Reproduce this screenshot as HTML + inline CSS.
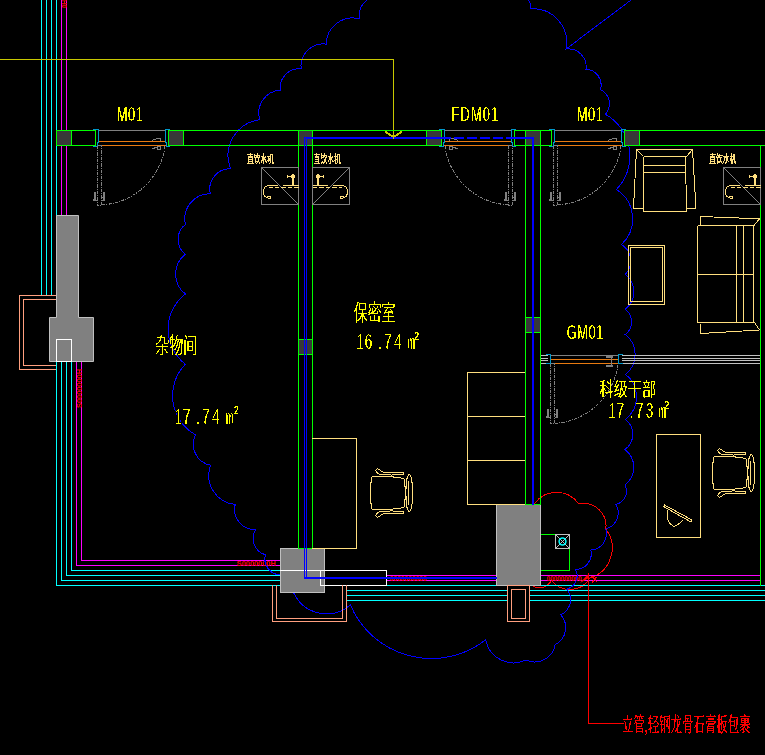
<!DOCTYPE html>
<html lang="zh"><head><meta charset="utf-8"><title>plan</title>
<style>html,body{margin:0;padding:0;background:#000;overflow:hidden}svg{display:block}text{white-space:pre}</style></head>
<body><svg width="765" height="755" viewBox="0 0 765 755">
<defs><filter id="bin" x="0" y="0" width="765" height="755" filterUnits="userSpaceOnUse" color-interpolation-filters="sRGB"><feComponentTransfer><feFuncR type="discrete" tableValues="0 0 0 0 1 1 1 1 1 1"/><feFuncG type="discrete" tableValues="0 0 0 0 1 1 1 1 1 1"/><feFuncB type="discrete" tableValues="0 0 0 0 1 1 1 1 1 1"/><feFuncA type="discrete" tableValues="0 0 0 1 1 1 1 1 1 1"/></feComponentTransfer></filter><filter id="binA" x="0" y="0" width="765" height="755" filterUnits="userSpaceOnUse" color-interpolation-filters="sRGB"><feComponentTransfer><feFuncA type="discrete" tableValues="0 0 0 0 1 1 1 1 1 1"/></feComponentTransfer></filter></defs>
<rect width="765" height="755" fill="#000"/>
<path d="M534.3,504A27.1,27.1 0 0 1 578.8,504A22.4,22.4 0 0 1 605.8,529A31.4,31.4 0 0 1 590,578" fill="none" stroke="#ff0000" stroke-width="1" shape-rendering="crispEdges" />
<path d="M530,583.5A13.0,13.0 0 0 0 551.4,580.2A23.2,23.2 0 0 0 590,578" fill="none" stroke="#ff0000" stroke-width="1" shape-rendering="crispEdges" />
<g shape-rendering="crispEdges">
<rect x="41" y="0" width="1" height="296" fill="#00ffff"/>
<rect x="46" y="0" width="1" height="296" fill="#00ffff"/>
<rect x="51" y="0" width="1" height="296" fill="#00ffff"/>
<rect x="56" y="0" width="1" height="216" fill="#00ffff"/>
<rect x="56" y="361" width="1" height="225" fill="#00ffff"/>
<rect x="56" y="585" width="225" height="1" fill="#00ffff"/>
<rect x="61" y="361" width="1" height="220" fill="#00ffff"/>
<rect x="61" y="580" width="220" height="1" fill="#00ffff"/>
<rect x="66" y="361" width="1" height="215" fill="#00ffff"/>
<rect x="66" y="575" width="215" height="1" fill="#00ffff"/>
<rect x="71" y="361" width="1" height="210" fill="#00ffff"/>
<rect x="71" y="570" width="210" height="1" fill="#00ffff"/>
<rect x="386" y="585" width="380" height="1" fill="#00ffff"/>
<rect x="347" y="590" width="161" height="1" fill="#00ffff"/>
<rect x="529" y="590" width="237" height="1" fill="#00ffff"/>
<rect x="347" y="595" width="161" height="1" fill="#00ffff"/>
<rect x="529" y="595" width="237" height="1" fill="#00ffff"/>
<rect x="347" y="600" width="161" height="1" fill="#00ffff"/>
<rect x="529" y="600" width="237" height="1" fill="#00ffff"/>
<rect x="61" y="0" width="1" height="216" fill="#ff00ff"/>
<rect x="66" y="0" width="1" height="216" fill="#ff00ff"/>
<rect x="76" y="361" width="1" height="205" fill="#ff00ff"/>
<rect x="76" y="565" width="205" height="1" fill="#ff00ff"/>
<rect x="81" y="361" width="1" height="200" fill="#ff00ff"/>
<rect x="81" y="560" width="200" height="1" fill="#ff00ff"/>
<rect x="387" y="575" width="110" height="1" fill="#ff00ff"/>
<rect x="540" y="575" width="221" height="1" fill="#ff00ff"/>
<rect x="387" y="580" width="110" height="1" fill="#ff00ff"/>
<rect x="540" y="580" width="221" height="1" fill="#ff00ff"/>
</g>
<g opacity="0.999">
<text transform="translate(237,565.5) scale(1,1)" font-family='"Liberation Sans",sans-serif' font-size="7" font-weight="700" fill="#ff0000" stroke="#ff0000" stroke-width="0.15" textLength="39" lengthAdjust="spacingAndGlyphs">S0000000H</text>
<text transform="translate(390,581) scale(1,1)" font-family='"Liberation Sans",sans-serif' font-size="7" font-weight="700" fill="#ff0000" stroke="#ff0000" stroke-width="0.15" textLength="37" lengthAdjust="spacingAndGlyphs">0000000000</text>
<text transform="translate(547,581) scale(1,1)" font-family='"Liberation Sans",sans-serif' font-size="7" font-weight="700" fill="#ff0000" stroke="#ff0000" stroke-width="0.15" textLength="35" lengthAdjust="spacingAndGlyphs">0000000000</text>
<text transform="translate(81.6,408) rotate(-90)" font-family='"Liberation Sans",sans-serif' font-size="7" font-weight="700" fill="#ff0000" stroke="#ff0000" stroke-width="0.15" textLength="39" lengthAdjust="spacingAndGlyphs">S0000000H</text>
<text transform="translate(66.6,8) rotate(-90)" font-family='"Liberation Sans",sans-serif' font-size="7" font-weight="700" fill="#ff0000" stroke="#ff0000" stroke-width="0.15" textLength="8" lengthAdjust="spacingAndGlyphs">0H</text>
</g>
<path d="M378,-3A18.0,18.0 0 0 0 359.7,18.9A26.4,26.4 0 0 0 326.3,44.1A22.2,22.2 0 0 0 301.2,68.9A18.7,18.7 0 0 0 280.5,90.2A22.7,22.7 0 0 0 259.9,119.8A35.9,35.9 0 0 0 230.6,168.7A20.3,20.3 0 0 0 210.4,193.8A24.9,24.9 0 0 0 185.5,224.4A18.8,18.8 0 0 0 185.4,254.3A25.0,25.0 0 0 0 185.4,294A44.2,44.2 0 0 0 185.4,364.2A44.9,44.9 0 0 0 195.5,434.8A21.4,21.4 0 0 0 210.6,465.3A29.2,29.2 0 0 0 235.2,504.5A20.4,20.4 0 0 0 255.6,529.7A17.0,17.0 0 0 0 265.4,554.8A16.1,16.1 0 0 0 281,575M293.8,593.1A36.4,36.4 0 0 0 350.4,605A88.0,88.0 0 0 0 485.7,639.8A28.3,28.3 0 0 0 525.9,660A20.8,20.8 0 0 0 555.2,644.7A19.2,19.2 0 0 0 560.8,614.8A16.7,16.7 0 0 0 566.7,589A13.5,13.5 0 0 0 575.5,569.4A15.6,15.6 0 0 0 590.8,550A16.3,16.3 0 0 0 605.8,529A16.8,16.8 0 0 0 615.9,504.4A13.5,13.5 0 0 0 625,485A22.4,22.4 0 0 0 625,449.5A19.0,19.0 0 0 0 625.5,419.3A28.4,28.4 0 0 0 625.5,374.3A25.1,25.1 0 0 0 625.3,334.5A15.9,15.9 0 0 0 625.3,309.2A22.0,22.0 0 0 0 625.3,274.3A18.9,18.9 0 0 0 621.4,244.6A34.9,34.9 0 0 0 616.4,189.5A47.9,47.9 0 0 0 605.4,114.3A15.9,15.9 0 0 0 600.5,89.5A15.6,15.6 0 0 0 586,69.4A18.0,18.0 0 0 0 566.1,49A34.0,34.0 0 0 0 530.3,8.7A9.4,9.4 0 0 0 521,-3" fill="none" stroke="#0000ff" stroke-width="1" shape-rendering="crispEdges" />
<path d="M566.1,49L631,0" fill="none" stroke="#0000ff" stroke-width="1" shape-rendering="crispEdges" />
<g shape-rendering="crispEdges">
<rect x="0" y="59" width="394" height="1" fill="#c8c800"/>
<rect x="393" y="59" width="1" height="79" fill="#c8c800"/>
</g>
<path d="M385,131.5L393.5,137L402,131.5" fill="none" stroke="#c8c800" stroke-width="2" shape-rendering="crispEdges" />
<g shape-rendering="crispEdges">
<rect x="56" y="130" width="40" height="1" fill="#00ff00"/>
<rect x="56" y="145" width="40" height="1" fill="#00ff00"/>
<rect x="168" y="130" width="274" height="1" fill="#00ff00"/>
<rect x="168" y="145" width="274" height="1" fill="#00ff00"/>
<rect x="514" y="130" width="38" height="1" fill="#00ff00"/>
<rect x="514" y="145" width="38" height="1" fill="#00ff00"/>
<rect x="624" y="130" width="142" height="1" fill="#00ff00"/>
<rect x="624" y="145" width="142" height="1" fill="#00ff00"/>
<rect x="56" y="130" width="1" height="16" fill="#00ff00"/>
<rect x="71" y="130" width="1" height="16" fill="#00ff00"/>
<rect x="95" y="130" width="1" height="16" fill="#00ff00"/>
<rect x="168" y="130" width="1" height="16" fill="#00ff00"/>
<rect x="183" y="130" width="1" height="16" fill="#00ff00"/>
<rect x="298" y="130" width="1" height="16" fill="#00ff00"/>
<rect x="312" y="130" width="1" height="16" fill="#00ff00"/>
<rect x="426" y="130" width="1" height="16" fill="#00ff00"/>
<rect x="441" y="130" width="1" height="16" fill="#00ff00"/>
<rect x="514" y="130" width="1" height="16" fill="#00ff00"/>
<rect x="525" y="130" width="1" height="16" fill="#00ff00"/>
<rect x="540" y="130" width="1" height="16" fill="#00ff00"/>
<rect x="551" y="130" width="1" height="16" fill="#00ff00"/>
<rect x="624" y="130" width="1" height="16" fill="#00ff00"/>
<rect x="639" y="130" width="1" height="16" fill="#00ff00"/>
<rect x="57" y="131" width="14" height="14" fill="#383838"/>
<rect x="169" y="131" width="14" height="14" fill="#383838"/>
<rect x="299" y="131" width="13" height="14" fill="#383838"/>
<rect x="427" y="131" width="14" height="14" fill="#383838"/>
<rect x="526" y="131" width="14" height="14" fill="#383838"/>
<rect x="625" y="131" width="14" height="14" fill="#383838"/>
<rect x="298" y="145" width="1" height="404" fill="#00ff00"/>
<rect x="312" y="145" width="1" height="404" fill="#00ff00"/>
<rect x="298" y="339" width="15" height="1" fill="#00ff00"/>
<rect x="298" y="354" width="15" height="1" fill="#00ff00"/>
<rect x="299" y="340" width="13" height="14" fill="#383838"/>
<rect x="525" y="145" width="1" height="360" fill="#00ff00"/>
<rect x="540" y="145" width="1" height="360" fill="#00ff00"/>
<rect x="525" y="317" width="16" height="1" fill="#00ff00"/>
<rect x="525" y="332" width="16" height="1" fill="#00ff00"/>
<rect x="526" y="318" width="14" height="14" fill="#383838"/>
<rect x="760" y="145" width="1" height="441" fill="#00ff00"/>
</g>
<rect x="540.5" y="534.5" width="29" height="36" fill="none" stroke="#00ff00" stroke-width="1"/>
<path d="M56.5,215.5H78.5V317.5H93.5V361.5H49.5V317.5H56.5Z" fill="#808080" stroke="#c0c0c0" stroke-width="1"/>
<rect x="56.5" y="339.5" width="15" height="22" fill="none" stroke="#ffffff" stroke-width="1"/>
<rect x="280.5" y="548.5" width="44" height="44" fill="#808080" stroke="#c0c0c0" stroke-width="1"/>
<rect x="496.5" y="504.5" width="44" height="81" fill="#808080" stroke="#c0c0c0" stroke-width="1"/>
<g shape-rendering="crispEdges">
<rect x="298" y="548" width="15" height="1" fill="#00ff00"/>
<rect x="525" y="504" width="16" height="1" fill="#00ff00"/>
</g>
<g shape-rendering="crispEdges">
<rect x="280" y="570" width="107" height="1" fill="#ffffff"/>
</g>
<rect x="320.5" y="570.5" width="66" height="15" fill="none" stroke="#ffffff" stroke-width="1"/>
<path d="M56,295.5H19.5V369.5H56" fill="none" stroke="#ff9f7f" stroke-width="1" shape-rendering="crispEdges" />
<path d="M56,299.5H23.5V365.5H56" fill="none" stroke="#ff9f7f" stroke-width="1" shape-rendering="crispEdges" />
<path d="M272.5,585V621.5H346.5V585" fill="none" stroke="#ff9f7f" stroke-width="1" shape-rendering="crispEdges" />
<path d="M276.5,585V618.5H342.5V585" fill="none" stroke="#ff9f7f" stroke-width="1" shape-rendering="crispEdges" />
<rect x="507.5" y="585.5" width="22" height="36" fill="none" stroke="#ff9f7f" stroke-width="1"/>
<rect x="511.5" y="589.5" width="14" height="29" fill="none" stroke="#ff9f7f" stroke-width="1"/>
<g shape-rendering="crispEdges">
<rect x="99" y="130" width="67" height="1" fill="#808080"/>
<rect x="98" y="141" width="68" height="1" fill="#e87a10"/>
<rect x="102" y="145" width="65" height="1" fill="#e87a10"/>
<rect x="97" y="145" width="5" height="1" fill="#808080"/>
</g>
<path d="M93,129.5H98.5V142L97.5,142.5V146.5H93" fill="none" stroke="#0099cc" stroke-width="1" shape-rendering="crispEdges" />
<path d="M170,129.5H165.5V142L166.5,142.5V146.5H170" fill="none" stroke="#0099cc" stroke-width="1" shape-rendering="crispEdges" />
<path d="M97.5,146V205.5H101.5V146" fill="none" stroke="#808080" stroke-width="1" shape-rendering="crispEdges" stroke-dasharray="3.4 1 1 1"/>
<path d="M164.90,146.5A67.5,67.5 0 0 1 101.5,204.91" fill="none" stroke="#808080" stroke-width="1" shape-rendering="crispEdges" stroke-dasharray="3 1.2 1 1.2"/>
<g>
<path d="M152,140.4L155,139.5L158,138.3H160.6V141" fill="none" stroke="#808080" stroke-width="1" shape-rendering="crispEdges" />
<path d="M152,148.6L157,147.4 M157.2,146.3H160.7V149.5H157.2Z" fill="none" stroke="#808080" stroke-width="1" shape-rendering="crispEdges" />
</g>
<g shape-rendering="crispEdges">
<rect x="94" y="192" width="2" height="9" fill="#808080"/>
<rect x="93" y="200" width="4" height="1" fill="#808080"/>
<rect x="93" y="199" width="1" height="1" fill="#808080"/>
<rect x="103" y="192" width="2" height="9" fill="#808080"/>
<rect x="102" y="200" width="3" height="1" fill="#808080"/>
<rect x="102" y="197" width="2" height="1" fill="#808080"/>
</g>
<g shape-rendering="crispEdges">
<rect x="445" y="130" width="67" height="1" fill="#808080"/>
<rect x="444" y="141" width="68" height="1" fill="#e87a10"/>
<rect x="444" y="145" width="65" height="1" fill="#e87a10"/>
<rect x="508" y="145" width="5" height="1" fill="#808080"/>
</g>
<path d="M439,129.5H444.5V142L443.5,142.5V146.5H439" fill="none" stroke="#0099cc" stroke-width="1" shape-rendering="crispEdges" />
<path d="M516,129.5H511.5V142L512.5,142.5V146.5H516" fill="none" stroke="#0099cc" stroke-width="1" shape-rendering="crispEdges" />
<path d="M508.5,146V205.5H512.5V146" fill="none" stroke="#808080" stroke-width="1" shape-rendering="crispEdges" stroke-dasharray="3.4 1 1 1"/>
<path d="M445.10,146.5A67.5,67.5 0 0 0 508.5,204.91" fill="none" stroke="#808080" stroke-width="1" shape-rendering="crispEdges" stroke-dasharray="3 1.2 1 1.2"/>
<g transform="translate(907,0) scale(-1,1)">
<path d="M449,140.4L452,139.5L455,138.3H457.6V141" fill="none" stroke="#808080" stroke-width="1" shape-rendering="crispEdges" />
<path d="M449,148.6L454,147.4 M454.2,146.3H457.7V149.5H454.2Z" fill="none" stroke="#808080" stroke-width="1" shape-rendering="crispEdges" />
</g>
<g shape-rendering="crispEdges">
<rect x="505" y="192" width="2" height="9" fill="#808080"/>
<rect x="504" y="200" width="4" height="1" fill="#808080"/>
<rect x="504" y="199" width="1" height="1" fill="#808080"/>
<rect x="514" y="192" width="2" height="9" fill="#808080"/>
<rect x="513" y="200" width="3" height="1" fill="#808080"/>
<rect x="513" y="197" width="2" height="1" fill="#808080"/>
</g>
<g shape-rendering="crispEdges">
<rect x="555" y="130" width="67" height="1" fill="#808080"/>
<rect x="554" y="141" width="68" height="1" fill="#e87a10"/>
<rect x="558" y="145" width="65" height="1" fill="#e87a10"/>
<rect x="553" y="145" width="5" height="1" fill="#808080"/>
</g>
<path d="M549,129.5H554.5V142L553.5,142.5V146.5H549" fill="none" stroke="#0099cc" stroke-width="1" shape-rendering="crispEdges" />
<path d="M626,129.5H621.5V142L622.5,142.5V146.5H626" fill="none" stroke="#0099cc" stroke-width="1" shape-rendering="crispEdges" />
<path d="M553.5,146V205.5H557.5V146" fill="none" stroke="#808080" stroke-width="1" shape-rendering="crispEdges" stroke-dasharray="3.4 1 1 1"/>
<path d="M620.90,146.5A67.5,67.5 0 0 1 557.5,204.91" fill="none" stroke="#808080" stroke-width="1" shape-rendering="crispEdges" stroke-dasharray="3 1.2 1 1.2"/>
<g>
<path d="M608,140.4L611,139.5L614,138.3H616.6V141" fill="none" stroke="#808080" stroke-width="1" shape-rendering="crispEdges" />
<path d="M608,148.6L613,147.4 M613.2,146.3H616.7V149.5H613.2Z" fill="none" stroke="#808080" stroke-width="1" shape-rendering="crispEdges" />
</g>
<g shape-rendering="crispEdges">
<rect x="550" y="192" width="2" height="9" fill="#808080"/>
<rect x="549" y="200" width="4" height="1" fill="#808080"/>
<rect x="549" y="199" width="1" height="1" fill="#808080"/>
<rect x="559" y="192" width="2" height="9" fill="#808080"/>
<rect x="558" y="200" width="3" height="1" fill="#808080"/>
<rect x="558" y="197" width="2" height="1" fill="#808080"/>
</g>
<g shape-rendering="crispEdges">
<rect x="541" y="355" width="7" height="1" fill="#c0c0c0"/>
<rect x="622" y="355" width="138" height="1" fill="#c0c0c0"/>
<rect x="541" y="358" width="7" height="1" fill="#c0c0c0"/>
<rect x="622" y="358" width="138" height="1" fill="#c0c0c0"/>
<rect x="541" y="360" width="7" height="1" fill="#c0c0c0"/>
<rect x="622" y="360" width="138" height="1" fill="#c0c0c0"/>
<rect x="541" y="363" width="7" height="1" fill="#c0c0c0"/>
<rect x="622" y="363" width="138" height="1" fill="#c0c0c0"/>
<rect x="551" y="355" width="68" height="1" fill="#808080"/>
<rect x="551" y="359" width="68" height="1" fill="#e87a10"/>
<rect x="555" y="363" width="64" height="1" fill="#e87a10"/>
<rect x="550" y="363" width="5" height="1" fill="#808080"/>
</g>
<path d="M546,354.5H550.5V363.5H546" fill="none" stroke="#0099cc" stroke-width="1" shape-rendering="crispEdges" />
<path d="M623,354.5H618.5V363.5H623" fill="none" stroke="#0099cc" stroke-width="1" shape-rendering="crispEdges" />
<path d="M550.5,364V423.5H554.5V364" fill="none" stroke="#808080" stroke-width="1" shape-rendering="crispEdges" stroke-dasharray="3.4 1 1 1"/>
<path d="M617.9,365A68,68 0 0 1 554.5,423.4" fill="none" stroke="#808080" stroke-width="1" shape-rendering="crispEdges" stroke-dasharray="3 1.2 1 1.2"/>
<g shape-rendering="crispEdges">
<rect x="547" y="409" width="2" height="9" fill="#808080"/>
<rect x="546" y="417" width="4" height="1" fill="#808080"/>
<rect x="546" y="416" width="1" height="1" fill="#808080"/>
<rect x="556" y="409" width="2" height="9" fill="#808080"/>
<rect x="555" y="417" width="3" height="1" fill="#808080"/>
<rect x="555" y="414" width="2" height="1" fill="#808080"/>
</g>
<g shape-rendering="crispEdges">
<rect x="606" y="356" width="7" height="1" fill="#808080"/>
<rect x="606" y="357" width="7" height="1" fill="#808080"/>
<rect x="611" y="356" width="1" height="11" fill="#808080"/>
<rect x="606" y="365" width="7" height="1" fill="#808080"/>
<rect x="606" y="366" width="7" height="1" fill="#808080"/>
</g>
<path d="M304.5,578V137.5H307" fill="none" stroke="#0000ff" stroke-width="1" shape-rendering="crispEdges" />
<path d="M306.5,578V138.5H307" fill="none" stroke="#0000ff" stroke-width="1" shape-rendering="crispEdges" />
<g shape-rendering="crispEdges">
<rect x="304" y="137" width="147" height="1" fill="#0000ff"/>
<rect x="306" y="138" width="145" height="1" fill="#0000ff"/>
<rect x="454" y="137" width="10" height="2" fill="#0000ff"/>
<rect x="467" y="137" width="10" height="2" fill="#0000ff"/>
<rect x="480" y="137" width="10" height="2" fill="#0000ff"/>
<rect x="493" y="137" width="10" height="2" fill="#0000ff"/>
<rect x="506" y="137" width="28" height="2" fill="#0000ff"/>
</g>
<g shape-rendering="crispEdges">
<rect x="532" y="137" width="2" height="368" fill="#0000ff"/>
<rect x="304" y="577" width="193" height="2" fill="#0000ff"/>
</g>
<g shape-rendering="crispEdges">
</g>
<g shape-rendering="crispEdges">
<rect x="393" y="137" width="1" height="2" fill="#c8c800"/>
</g>
<rect x="261.5" y="167.5" width="37" height="37" fill="none" stroke="#808080" stroke-width="1"/>
<path d="M261.5,167.5L298.5,204.5" fill="none" stroke="#808080" stroke-width="1" shape-rendering="crispEdges" />
<rect x="312.5" y="167.5" width="37" height="37" fill="none" stroke="#808080" stroke-width="1"/>
<path d="M312.5,204.5L349.5,167.5" fill="none" stroke="#808080" stroke-width="1" shape-rendering="crispEdges" />
<rect x="723.5" y="167.5" width="37" height="37" fill="none" stroke="#808080" stroke-width="1"/>
<path d="M723.5,167.5L760.5,204.5" fill="none" stroke="#808080" stroke-width="1" shape-rendering="crispEdges" />
<g transform="translate(0,0)" fill="none" stroke="#ffdf7f" stroke-width="1" shape-rendering="crispEdges">
<path d="M298.5,185.8H283 M278,185.8H267.5C263,186.5 262.5,194 265,196.5C267,198.6 270.5,198.8 270.7,197.5C270.8,196.3 268,196 266.8,197"/>
<path d="M298.5,187.5H269" stroke-dasharray="4.5 2"/>
<path d="M292.3,185.5V178 M293.8,185.5V178 M287.5,174.5V178 M287.5,176.4H291"/>
<circle cx="293" cy="176.4" r="1.6" fill="#ffdf7f"/>
</g>
<g transform="translate(611,0) scale(-1,1)" fill="none" stroke="#ffdf7f" stroke-width="1" shape-rendering="crispEdges">
<path d="M298.5,185.8H283 M278,185.8H267.5C263,186.5 262.5,194 265,196.5C267,198.6 270.5,198.8 270.7,197.5C270.8,196.3 268,196 266.8,197"/>
<path d="M298.5,187.5H269" stroke-dasharray="4.5 2"/>
<path d="M292.3,185.5V178 M293.8,185.5V178 M287.5,174.5V178 M287.5,176.4H291"/>
<circle cx="293" cy="176.4" r="1.6" fill="#ffdf7f"/>
</g>
<g transform="translate(462,0)" fill="none" stroke="#ffdf7f" stroke-width="1" shape-rendering="crispEdges">
<path d="M298.5,185.8H283 M278,185.8H267.5C263,186.5 262.5,194 265,196.5C267,198.6 270.5,198.8 270.7,197.5C270.8,196.3 268,196 266.8,197"/>
<path d="M298.5,187.5H269" stroke-dasharray="4.5 2"/>
<path d="M292.3,185.5V178 M293.8,185.5V178 M287.5,174.5V178 M287.5,176.4H291"/>
<circle cx="293" cy="176.4" r="1.6" fill="#ffdf7f"/>
</g>
<path d="M636.5,149.5H692.5L696,208.5H686.5 M636.5,149.5L633.5,208.5H643.5 M643.5,156.5H686.5 M636.5,149.5L643.5,156.5 M692.5,149.5L686.5,156.5 M643.5,156.5V211.5H686.5L685.5,156.5 M643.5,165.5H685.5 M643.5,172.5H685.5" fill="none" stroke="#ffdf7f" stroke-width="1" shape-rendering="crispEdges" />
<path d="M700.5,216.5L759.5,218.8L753.5,226L700.5,225.5Z M697.5,225.5V322.5H754.5 M753.5,226V322.5 M697.5,225.5H700.5 M697.5,274.5H753.5 M736.5,226V322.5 M743.5,226V322.5 M700.5,323.5V333.5L759.5,330L754.5,322.5" fill="none" stroke="#ffdf7f" stroke-width="1" shape-rendering="crispEdges" />
<rect x="628.5" y="245.5" width="36" height="59" fill="none" stroke="#ffdf7f" stroke-width="1"/>
<rect x="630.5" y="247.5" width="32" height="54" fill="none" stroke="#ffdf7f" stroke-width="1"/>
<path d="M525,372.5H467.5V504.5H525 M467.5,416.5H525 M467.5,460.5H525" fill="none" stroke="#ffdf7f" stroke-width="1" shape-rendering="crispEdges" />
<path d="M312,438.5H356.5V548.5H312" fill="none" stroke="#ffdf7f" stroke-width="1" shape-rendering="crispEdges" />
<rect x="656.5" y="434.5" width="44" height="103" fill="none" stroke="#ffdf7f" stroke-width="1"/>
<path d="M663.5,506.5L664.5,505L692,520L691,522Z" fill="none" stroke="#ffdf7f" stroke-width="1" shape-rendering="crispEdges" />
<path d="M667.5,510C666.5,517.5 668,523.5 673,526C677,527 679,523.5 683,520" fill="none" stroke="#ffdf7f" stroke-width="1" shape-rendering="crispEdges" />
<g transform="translate(370,469)" fill="none" stroke="#ffdf7f" stroke-width="1" shape-rendering="crispEdges">
<path d="M3,7.5C1,7.5 0.8,12 0.7,24C0.8,36 1,40.5 3,40.5C10,41.5 25,40 34,38.5C35.5,30 35.5,18 34,9.5C25,8 10,6.5 3,7.5Z"/>
<ellipse cx="39.3" cy="24" rx="3.4" ry="18.5"/>
<ellipse cx="37.2" cy="24" rx="1.3" ry="15"/>
<path d="M9,5C5,3 5,-0.5 8,0C10,0.3 11,2.5 13,3C20,4 28,3.5 33,3L34,5C28,6 18,6.5 9,5Z"/>
<path d="M9,43C5,45 5,48.5 8,48C10,47.7 11,45.5 13,45C20,44 28,44.5 33,45L34,43C28,42 18,41.5 9,43Z"/>
</g>
<g transform="translate(712,449)" fill="none" stroke="#ffdf7f" stroke-width="1" shape-rendering="crispEdges">
<path d="M3,7.5C1,7.5 0.8,12 0.7,24C0.8,36 1,40.5 3,40.5C10,41.5 25,40 34,38.5C35.5,30 35.5,18 34,9.5C25,8 10,6.5 3,7.5Z"/>
<ellipse cx="39.3" cy="24" rx="3.4" ry="18.5"/>
<ellipse cx="37.2" cy="24" rx="1.3" ry="15"/>
<path d="M9,5C5,3 5,-0.5 8,0C10,0.3 11,2.5 13,3C20,4 28,3.5 33,3L34,5C28,6 18,6.5 9,5Z"/>
<path d="M9,43C5,45 5,48.5 8,48C10,47.7 11,45.5 13,45C20,44 28,44.5 33,45L34,43C28,42 18,41.5 9,43Z"/>
</g>
<rect x="555.5" y="534.5" width="14" height="14" fill="none" stroke="#c0c0c0" stroke-width="1"/>
<path d="M555.5,534.5L569.5,548.5 M569.5,534.5L555.5,548.5" fill="none" stroke="#c0c0c0" stroke-width="1" shape-rendering="crispEdges" />
<circle cx="562.5" cy="541.5" r="3.4" fill="none" stroke="#00ffff" stroke-width="1.5"/>
<g shape-rendering="crispEdges">
<rect x="588" y="573" width="1" height="151" fill="#ff0000"/>
<rect x="588" y="723" width="36" height="1" fill="#ff0000"/>
</g>
<path d="M580,583L587.3,574.8L589.6,577.6Z" fill="#ff0000"/>
<path d="M591.5,576L597,582 M592,582.5L596.5,577" fill="none" stroke="#ff0000" stroke-width="1.3" shape-rendering="crispEdges" />
<g filter="url(#bin)">
<text transform="translate(116.8,121) scale(0.66,1)" font-family='"Liberation Sans","Noto Sans CJK SC",sans-serif' font-size="19.5" font-weight="400" fill="#ffff00" letter-spacing="0.9" stroke="#000" stroke-width="0.55">M01</text>
<text transform="translate(451.5,121) scale(0.66,1)" font-family='"Liberation Sans","Noto Sans CJK SC",sans-serif' font-size="19.5" font-weight="400" fill="#ffff00" letter-spacing="1.7" stroke="#000" stroke-width="0.55">FDM01</text>
<text transform="translate(576.8,121) scale(0.66,1)" font-family='"Liberation Sans","Noto Sans CJK SC",sans-serif' font-size="19.5" font-weight="400" fill="#ffff00" letter-spacing="0.9" stroke="#000" stroke-width="0.55">M01</text>
<text transform="translate(566.8,338.7) scale(0.66,1)" font-family='"Liberation Sans","Noto Sans CJK SC",sans-serif' font-size="19.5" font-weight="400" fill="#ffff00" letter-spacing="0.7" stroke="#000" stroke-width="0.55">GM01</text>
<text transform="translate(155.2,353.3) scale(0.653,1)" font-family='"Liberation Sans","Noto Sans CJK SC",sans-serif' font-size="21.5" font-weight="300" fill="#ffff00" letter-spacing="0" >杂物间</text>
<text transform="translate(353.8,319.7) scale(0.651,1)" font-family='"Liberation Sans","Noto Sans CJK SC",sans-serif' font-size="21.3" font-weight="300" fill="#ffff00" letter-spacing="0" >保密室</text>
<text transform="translate(599.5,395.7) scale(0.727,1)" font-family='"Liberation Sans","Noto Sans CJK SC",sans-serif' font-size="19.5" font-weight="300" fill="#ffff00" letter-spacing="0" >科级干部</text>
<text transform="translate(176.4,423.6) scale(0.64,1)" x="-3.12 10.00 30.62 40.00 55.62" font-family='"Liberation Sans","Noto Sans CJK SC",sans-serif' font-size="21.4" fill="#ffff00" stroke="#000" stroke-width="0.6">17.74</text>
<text transform="translate(226.0,423.6) scale(0.45,1)" font-family='"Liberation Sans","Noto Sans CJK SC",sans-serif' font-size="20" fill="#ffff00" stroke="#000" stroke-width="0.6">m</text>
<text transform="translate(233.9,414.0) scale(0.8,1)" font-family='"Liberation Sans","Noto Sans CJK SC",sans-serif' font-size="10.5" fill="#ffff00">2</text>
<text transform="translate(358.3,349.3) scale(0.64,1)" x="-3.12 10.00 30.62 40.00 55.62" font-family='"Liberation Sans","Noto Sans CJK SC",sans-serif' font-size="21.4" fill="#ffff00" stroke="#000" stroke-width="0.6">16.74</text>
<text transform="translate(407.6,349.3) scale(0.45,1)" font-family='"Liberation Sans","Noto Sans CJK SC",sans-serif' font-size="20" fill="#ffff00" stroke="#000" stroke-width="0.6">m</text>
<text transform="translate(414.2,339.7) scale(0.8,1)" font-family='"Liberation Sans","Noto Sans CJK SC",sans-serif' font-size="10.5" fill="#ffff00">2</text>
<text transform="translate(610.2,418.2) scale(0.64,1)" x="-3.12 10.00 30.62 40.00 55.62" font-family='"Liberation Sans","Noto Sans CJK SC",sans-serif' font-size="21.4" fill="#ffff00" stroke="#000" stroke-width="0.6">17.73</text>
<text transform="translate(658.4000000000001,418.2) scale(0.45,1)" font-family='"Liberation Sans","Noto Sans CJK SC",sans-serif' font-size="20" fill="#ffff00" stroke="#000" stroke-width="0.6">m</text>
<text transform="translate(664.6,408.59999999999997) scale(0.8,1)" font-family='"Liberation Sans","Noto Sans CJK SC",sans-serif' font-size="10.5" fill="#ffff00">2</text>
</g><g filter="url(#binA)">
<text transform="translate(247,162.6) scale(0.59,1)" font-family='"Liberation Sans","Noto Sans CJK SC",sans-serif' font-size="11.5" font-weight="500" fill="#ffdf7f" letter-spacing="0" >直饮水机</text>
<text transform="translate(313.6,162.6) scale(0.59,1)" font-family='"Liberation Sans","Noto Sans CJK SC",sans-serif' font-size="11.5" font-weight="500" fill="#ffdf7f" letter-spacing="0" >直饮水机</text>
<text transform="translate(709.2,162.6) scale(0.59,1)" font-family='"Liberation Sans","Noto Sans CJK SC",sans-serif' font-size="11.5" font-weight="500" fill="#ffdf7f" letter-spacing="0" >直饮水机</text>
</g><g filter="url(#bin)">
<text transform="translate(622,732) scale(0.572,1)" font-family='"Liberation Serif","Noto Serif CJK SC",serif' font-size="20" font-weight="400" fill="#ff0000" letter-spacing="0" >立管,轻钢龙骨石膏板包裹</text>
</g>
</svg></body></html>
